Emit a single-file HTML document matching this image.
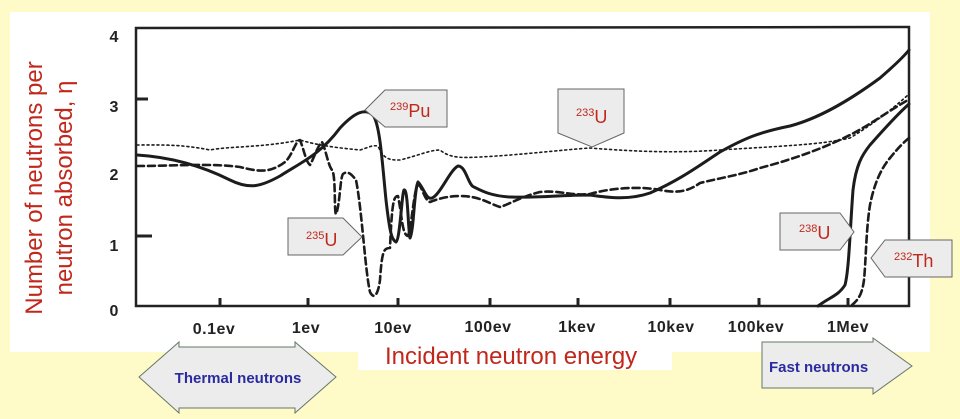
<!DOCTYPE html>
<html><head><meta charset="utf-8"><style>
html,body{margin:0;padding:0;background:#fffbc8;}
svg{display:block}
</style></head><body>
<svg width="960" height="419" viewBox="0 0 960 419" xmlns="http://www.w3.org/2000/svg" font-family="Liberation Sans, sans-serif">
<rect width="960" height="419" fill="#fffbc8"/>
<rect x="10" y="12" width="920" height="340" fill="#fff"/>
<rect x="358" y="340" width="314" height="30" fill="#fff"/>
<g stroke="#222" fill="none">
<path d="M136 28 L909 27 L909 306 L136 306 Z" stroke-width="2.5"/>
<g stroke-width="3">
<path d="M136 99 H148 M136 236 H152"/>
<path d="M220 306 V298 M308 306 V298 M398 306 V298 M490 306 V298 M578 306 V298 M670 306 V298 M759 306 V298 M848 306 V298"/>
</g>
</g>
<g font-weight="bold" font-size="16" fill="#222" text-anchor="middle">
<text x="114" y="42">4</text><text x="114" y="112">3</text><text x="114" y="180">2</text><text x="114" y="251">1</text><text x="114" y="316">0</text>
</g>
<g font-weight="bold" font-size="16" fill="#222" text-anchor="middle" letter-spacing="0.5">
<text x="214" y="334">0.1ev</text><text x="306" y="333">1ev</text><text x="393" y="333">10ev</text><text x="488" y="332">100ev</text><text x="577" y="332">1kev</text><text x="671" y="332">10kev</text><text x="756" y="332">100kev</text><text x="848" y="332">1Mev</text>
</g>
<text transform="translate(45,188) rotate(-90)" text-anchor="middle" font-size="24" fill="#c0281c"><tspan x="0" y="-3">Number of neutrons per</tspan><tspan x="0" y="27">neutron absorbed, η</tspan></text>
<text x="385" y="364" font-size="24" fill="#c0281c">Incident neutron energy</text>
<g fill="none" stroke="#1c1c1c" stroke-linejoin="round" stroke-linecap="round">
<path stroke-width="1.6" stroke-dasharray="2 3" d="M137 145 C160 145 180 144 210 150 C230 146 260 148 300 140 C320 146 340 148 360 150 C370 147 372 145 378 146 C384 160 390 160 400 160 C420 155 430 150 440 150 C450 158 460 158 480 157 C520 155 560 150 590 148 C640 152 680 153 720 150 C780 146 820 145 850 138 C880 120 900 102 908 95"/>
<path stroke-width="3" d="M137 155 C170 157 200 165 230 180 C250 190 262 186 280 176 C300 163 320 155 340 128 C355 112 365 108 373 115 C380 125 382 160 386 200 C390 235 392 240 396 242 C400 240 402 192 404 190 C408 188 408 230 410 238 C414 230 414 190 418 182 C424 188 426 200 432 198 C440 195 450 170 458 166 C466 166 468 185 474 187 C480 190 490 196 510 197 C540 198 560 195 590 195 C610 198 630 200 650 193 C680 180 700 165 720 152 C745 138 760 132 790 126 C820 118 850 100 880 78 C895 65 905 55 909 50"/>
<path stroke-width="2.6" stroke-dasharray="7 4" d="M137 166 C170 166 210 163 240 167 C260 172 270 173 285 162 C292 156 296 140 300 140 C304 150 306 162 310 165 C314 158 318 145 322 142 C326 150 328 165 332 170 C336 175 334 213 336 214 C340 205 340 178 343 174 C348 170 352 175 356 180 C362 210 365 270 370 292 C374 300 378 295 380 280 C382 250 384 248 390 248 C392 200 394 196 398 196 C402 215 402 235 408 236 C412 225 414 188 418 185 C422 185 424 200 430 202 C440 198 450 196 460 196 C480 196 490 204 500 207 C510 204 520 197 540 192 C560 190 570 196 590 194 C610 188 640 186 660 190 C680 194 690 190 700 183 C720 178 740 175 760 168 C790 160 820 150 850 135 C870 125 890 110 908 100"/>
<path stroke-width="3" d="M818 306 C830 297 838 296 845 285 C849 270 850 230 853 190 C856 165 862 155 870 145 C885 128 900 112 909 104"/>
<path stroke-width="2.6" stroke-dasharray="7 4" d="M852 305 C858 300 862 295 864 280 C866 260 866 230 870 205 C874 185 880 170 890 158 C898 148 904 142 909 138"/>
</g>
<g fill="#ececec" stroke="#666" stroke-width="1">
<path d="M365 110 L385 90 L447 90 L447 127 L385 127 Z"/>
<path d="M288 218 L343 218 L362 237 L343 255 L288 255 Z"/>
<path d="M558 89 L624 89 L624 133 L592 147 L558 133 Z"/>
<path d="M780 213 L840 213 L854 232 L840 250 L780 250 Z"/>
<path d="M871 258 L885 240 L952 240 L952 277 L885 277 Z"/>
</g>
<g fill="#c0281c" font-size="18">
<text x="390" y="117"><tspan font-size="11" dy="-7">239</tspan><tspan dy="7">Pu</tspan></text>
<text x="306" y="246"><tspan font-size="11" dy="-7">235</tspan><tspan dy="7">U</tspan></text>
<text x="576" y="123"><tspan font-size="11" dy="-7">233</tspan><tspan dy="7">U</tspan></text>
<text x="799" y="239"><tspan font-size="11" dy="-7">238</tspan><tspan dy="7">U</tspan></text>
<text x="894" y="267"><tspan font-size="11" dy="-7">232</tspan><tspan dy="7">Th</tspan></text>
</g>
<g fill="#ececec" stroke="#667766" stroke-width="1">
<path d="M139 377 L179 342 L179 347 L295 347 L295 342 L336 377 L295 413 L295 408 L179 408 L179 413 Z"/>
<path d="M762 342 L873 342 L873 338 L912 366 L873 394 L873 388 L762 388 Z"/>
</g>
<text x="238" y="383" text-anchor="middle" font-weight="bold" font-size="15" fill="#2b2ba0">Thermal neutrons</text>
<text x="769" y="372" font-weight="bold" font-size="15" fill="#2b2ba0">Fast neutrons</text>
</svg>
</body></html>
